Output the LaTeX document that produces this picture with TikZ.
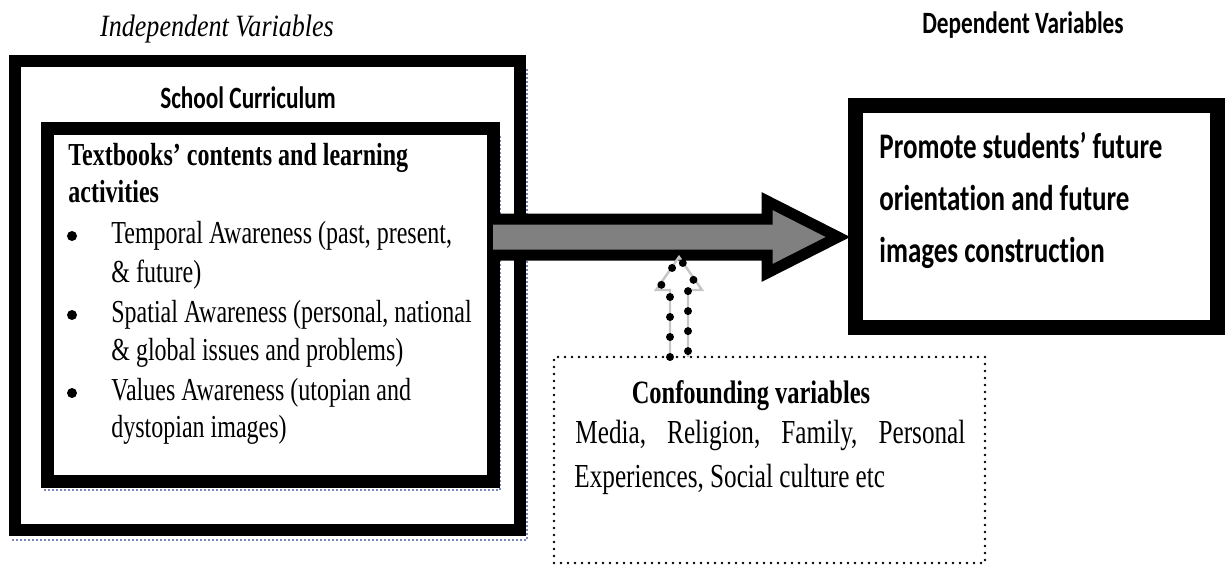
\documentclass[tikz,border=0pt]{standalone}
\usepackage{fontspec}
\newfontfamily\timesfont[FakeStretch=0.75]{Liberation Serif}
\newfontfamily\indepfont[FakeStretch=0.84]{Liberation Serif}
\newfontfamily\calfont[FakeStretch=0.75,Ligatures=NoCommon]{Carlito}
\definecolor{arrowgray}{RGB}{128,128,128}
\definecolor{shadowblue}{RGB}{120,135,185}
\begin{document}
\begin{tikzpicture}[x=0.5pt,y=-0.5pt,
  frame/.style={draw=black, rectangle, inner sep=0pt},
  lefttxt/.style={font=\timesfont\fontsize{16pt}{19pt}\selectfont, inner sep=0pt, anchor=base west},
  leftbold/.style={lefttxt, font=\timesfont\bfseries\fontsize{16pt}{19pt}\selectfont},
  conftxt/.style={lefttxt, font=\timesfont\fontsize{16.8pt}{20pt}\selectfont},
  confttl/.style={font=\timesfont\bfseries\fontsize{16.3pt}{19pt}\selectfont, inner sep=0pt, anchor=base},
  righttxt/.style={font=\calfont\bfseries\fontsize{18pt}{21pt}\selectfont, inner sep=0pt, anchor=base west},
  heading/.style={font=\calfont\bfseries\fontsize{15.5pt}{18pt}\selectfont, inner sep=0pt, anchor=base},
  bulletdot/.style={circle, fill=black, inner sep=0pt, minimum size=5pt},
  dotline/.style={line width=4pt, line cap=round, dash pattern=on 0pt off 10pt},
  shadowline/.style={shadowblue, line width=0.8pt, dash pattern=on 1pt off 1pt}
]
\useasboundingbox (0,0) rectangle (1225,570);

% shadows
\draw[shadowline] (12,540) -- (527,540) -- (527,68);
\draw[shadowline] (44,490) -- (500,490) -- (500,135);

% boxes
\node[frame, line width=6pt, minimum width=252.5pt, minimum height=234.5pt] (outer) at (267.5,295.5) {};
\node[frame, line width=6.5pt, minimum width=223pt, minimum height=176.5pt] (tb) at (270,304.5) {};
\node[frame, line width=7.5pt, minimum width=181pt, minimum height=111pt] (dv) at (1036,216) {};
\node[frame, line width=1.3pt, line cap=round, dash pattern=on 0pt off 3.5pt, minimum width=215.5pt, minimum height=103pt] (conf) at (769.5,460) {};

% headings
\node[font=\indepfont\itshape\fontsize{15.5pt}{19pt}\selectfont, inner sep=0pt, anchor=base] (indep) at (217,36) {Independent Variables};
\node[heading] (dep) at (1023,33) {Dependent Variables};
\node[heading] (sc) at (248,108) {School Curriculum};

% left text
\node[leftbold] (t1) at (68,165) {Textbooks’ contents and learning};
\node[leftbold] (t2) at (68,202) {activities};
\node[bulletdot] (b1) at (72,236) {};
\node[lefttxt] (l1) at (111,243) {Temporal Awareness (past, present,};
\node[lefttxt] (l2) at (111,282) {\& future)};
\node[bulletdot] (b2) at (72,315) {};
\node[lefttxt] (l3) at (111,322) {Spatial Awareness (personal, national};
\node[lefttxt] (l4) at (111,360) {\& global issues and problems)};
\node[bulletdot] (b3) at (72,393) {};
\node[lefttxt] (l5) at (111,400) {Values Awareness (utopian and};
\node[lefttxt] (l6) at (111,437) {dystopian images)};

% right text
\node[righttxt] (r1) at (879,158) {Promote students’ future};
\node[righttxt] (r2) at (879,210) {orientation and future};
\node[righttxt] (r3) at (879,262) {images construction};

% confounding text
\node[confttl] (ct) at (751,403) {Confounding variables};
\node[conftxt] (c1) at (575,443) {\makebox[195pt][s]{Media, Religion, Family, Personal}};
\node[conftxt] (c2) at (574,487) {Experiences, Social culture etc};

% big arrow from tb to dv
\fill[arrowgray] (493,219) -- (767,219) -- (767,201) -- (838,237) -- (767,273) -- (767,255) -- (493,255) -- cycle;
\draw[line width=5.5pt, miter limit=10] (493,219) -- (767,219) -- (767,201) -- (838,237) -- (767,273) -- (767,255) -- (493,255);

% dotted arrow from conf to the big arrow
\draw[gray!45, line width=1.2pt] (670,357) -- (670,290) -- (656,290) -- (679,257) -- (702,290) -- (688,290) -- (688,357);
\draw[dotline] (670,357) -- (670,290) -- (660,287) -- (679,257) -- (698,287) -- (688,290) -- (688,357);
\end{tikzpicture}
\end{document}
